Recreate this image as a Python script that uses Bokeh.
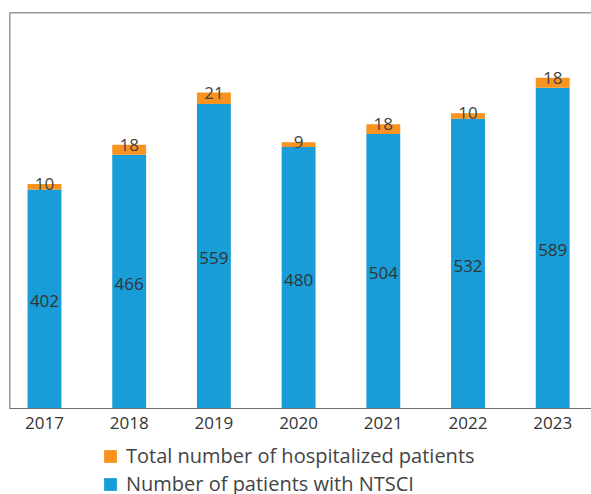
from bokeh.plotting import figure
from bokeh.layouts import column
from bokeh.models import (ColumnDataSource, Legend, LegendItem, FixedTicker,
                          Range1d, Span)
from bokeh.embed import file_html
from bokeh.resources import INLINE
from bokeh.core.properties import value

# ---- data ----
years = ["2017", "2018", "2019", "2020", "2021", "2022", "2023"]
ntsci = [402, 466, 559, 480, 504, 532, 589]          # Number of patients with NTSCI
extra = [10, 18, 21, 9, 18, 10, 18]                   # Total number of hospitalized patients (top segment)
series_names = ["Total number of hospitalized patients", "Number of patients with NTSCI"]

BLUE = "#189dd8"
ORANGE = "#f7931e"
FONT = "Open Sans"

xs = list(range(len(years)))
tops = [a + b for a, b in zip(ntsci, extra)]
mids = [a / 2 for a in ntsci]

src = ColumnDataSource(dict(
    x=xs, ntsci=ntsci, extra=extra, top=tops, mid=mids,
    ntsci_lbl=[str(v) for v in ntsci], extra_lbl=[str(v) for v in extra],
))

X0, X1, Y1 = -0.413, 6.458, 727
p = figure(width=591, height=440, output_backend="svg", toolbar_location=None,
           x_range=Range1d(X0, X1), y_range=Range1d(0, Y1),
           min_border_left=9, min_border_right=0, min_border_top=12, min_border_bottom=32,
           outline_line_color=None)

r_blue = p.vbar(x="x", width=0.4, bottom=0, top="ntsci", source=src,
                fill_color=BLUE, line_color=None)
r_orange = p.vbar(x="x", width=0.4, bottom="ntsci", top="top", source=src,
                  fill_color=ORANGE, line_color=None)

p.text(x="x", y="mid", text="ntsci_lbl", source=src, text_align="center",
       text_baseline="middle", text_font=value(FONT), text_font_size="17px",
       text_color="#333333", y_offset=2)
p.text(x="x", y="top", text="extra_lbl", source=src, text_align="center",
       text_baseline="alphabetic", y_offset=0, text_font=value(FONT),
       text_font_size="17px", text_color="#444444")

p.xgrid.visible = False
p.ygrid.visible = False
p.yaxis.visible = False

# bottom axis
xa = p.xaxis[0]
xa.ticker = FixedTicker(ticks=xs)
xa.major_label_overrides = {i: y for i, y in zip(xs, years)}
xa.major_tick_line_color = None
xa.minor_tick_line_color = None
xa.major_tick_out = 0
xa.major_label_standoff = 8
xa.major_label_text_font = FONT
xa.major_label_text_font_size = "17px"
xa.major_label_text_color = "#333333"
xa.axis_line_color = "#707070"

# frame lines on left and top
p.add_layout(Span(location=X0, dimension="height", line_color="#333333", line_width=1.5))
p.add_layout(Span(location=Y1, dimension="width", line_color="#333333", line_width=1.5))

# legend strip below the chart (its renderers are hidden; only the legend shows)
lg = figure(width=591, height=54, output_backend="svg", toolbar_location=None,
            x_range=Range1d(X0, X1), y_range=Range1d(0, Y1),
            min_border_left=0, min_border_right=0, min_border_top=0, min_border_bottom=0,
            outline_line_color=None)
lg.xaxis.visible = False
lg.yaxis.visible = False
lg.xgrid.visible = False
lg.ygrid.visible = False
lr_orange = lg.vbar(x="x", width=0.4, bottom="ntsci", top="top", source=src,
                    fill_color=ORANGE, line_color=None, visible=False)
lr_blue = lg.vbar(x="x", width=0.4, bottom=0, top="ntsci", source=src,
                  fill_color=BLUE, line_color=None, visible=False)

legend = Legend(items=[
    LegendItem(label=series_names[0], renderers=[lr_orange]),
    LegendItem(label=series_names[1], renderers=[lr_blue]),
], location=(93, -3), orientation="vertical", glyph_width=16, glyph_height=16,
    label_text_font=FONT, label_text_font_size="20px", label_text_color="#444444",
    label_height=16, spacing=1, padding=0, margin=0, label_standoff=8,
    border_line_color=None, background_fill_alpha=0,
    inactive_fill_alpha=0)
lg.add_layout(legend)

layout = column(p, lg, spacing=0)
open("out.html", "w").write(file_html(layout, INLINE))
